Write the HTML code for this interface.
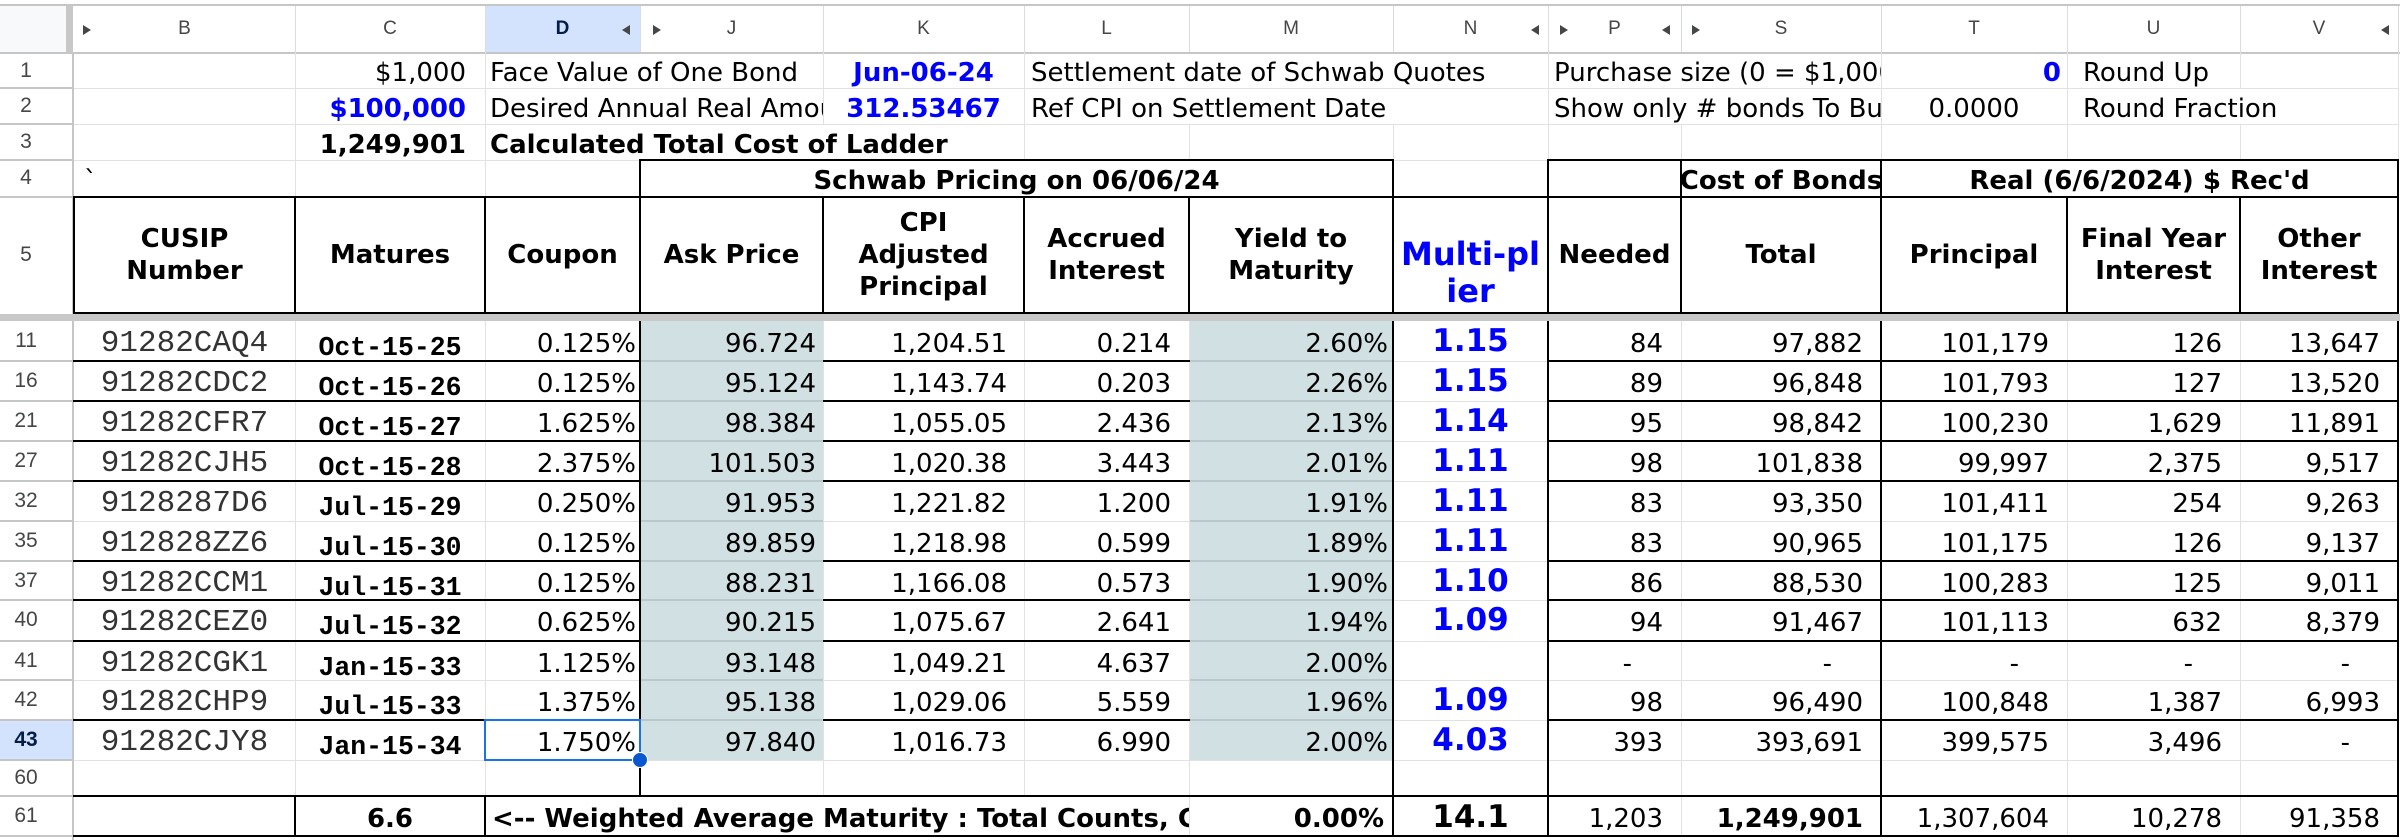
<!DOCTYPE html>
<html>
<head>
<meta charset="utf-8">
<style>
html,body{margin:0;padding:0;background:#fff;}
#c{position:relative;width:2400px;height:840px;overflow:hidden;background:#fff;}
.t{position:absolute;white-space:nowrap;font-family:"DejaVu Sans",sans-serif;font-size:26px;line-height:30px;color:#000;}
.b{font-weight:bold;}
.u{color:#0000ff;}
.R{text-align:right;}
.C{text-align:center;}
.clip{overflow:hidden;}
.g{position:absolute;background:#e2e2e2;}
.k{position:absolute;background:#000;}
.s{position:absolute;background:#c4c7c5;}
.d{position:absolute;background:#b9c8cb;}
.hd{position:absolute;top:197px;height:116px;display:flex;align-items:center;justify-content:center;text-align:center;font-family:"DejaVu Sans",sans-serif;font-weight:bold;font-size:26px;line-height:32px;white-space:nowrap;color:#000;}
.ch{position:absolute;top:18px;font-family:"Liberation Sans",Arial,sans-serif;font-size:19px;line-height:22px;color:#444746;text-align:center;}
.rn{position:absolute;left:0;width:52px;text-align:center;font-family:"Liberation Sans",Arial,sans-serif;font-size:21px;line-height:24px;color:#444746;}
.row{position:absolute;left:0;width:2400px;height:40px;}
.row .rn{top:8px;}
.cB{left:74px;width:221px;text-align:center;top:8px;font-family:"Liberation Mono",monospace;font-size:31px;color:#333;}
.cC{left:295px;width:190px;text-align:center;top:12px;font-family:"Liberation Mono",monospace;font-weight:bold;font-size:26.5px;}
.cD{left:485px;width:151px;text-align:right;top:8px;}
.cJ{left:640px;width:176px;text-align:right;top:8px;}
.cK{left:823px;width:184px;text-align:right;top:8px;}
.cL{left:1024px;width:147px;text-align:right;top:8px;}
.cM{left:1189px;width:199px;text-align:right;top:8px;}
.cN{left:1393px;width:155px;text-align:center;top:2px;font-weight:bold;font-size:31px;line-height:36px;color:#0000ff;}
.cP{left:1548px;width:115px;text-align:right;top:8px;}
.cS{left:1681px;width:182px;text-align:right;top:8px;}
.cT{left:1881px;width:168px;text-align:right;top:8px;}
.cU{left:2067px;width:155px;text-align:right;top:8px;}
.cV{left:2240px;width:140px;text-align:right;top:8px;}
.dP{left:1548px;width:84px;text-align:right;top:8px;}
.dS{left:1681px;width:151px;text-align:right;top:8px;}
.dT{left:1881px;width:138px;text-align:right;top:8px;}
.dU{left:2067px;width:126px;text-align:right;top:8px;}
.dV{left:2240px;width:110px;text-align:right;top:8px;}
.tr{position:absolute;top:25px;width:0;height:0;border-top:5.5px solid transparent;border-bottom:5.5px solid transparent;}
.tR{border-left:8px solid #444746;}
.tL{border-right:8px solid #444746;}
</style>
</head>
<body>
<div id="c">

<!-- column header area -->
<div class="s" style="left:0;top:4px;width:2400px;height:2px;"></div>
<div style="position:absolute;left:0;top:6px;width:66px;height:46px;background:#f8f9fa;"></div>
<div style="position:absolute;left:66px;top:6px;width:7px;height:46px;background:#c8c8c8;"></div>
<div style="position:absolute;left:485px;top:6px;width:155px;height:46px;background:#d3e3fd;"></div>
<div class="s" style="left:0;top:52px;width:2400px;height:2px;"></div>
<!-- header separators -->
<div class="g" style="left:295px;top:6px;width:1px;height:46px;background:#dadce0"></div>
<div class="g" style="left:485px;top:6px;width:1px;height:46px;background:#dadce0"></div>
<div class="g" style="left:640px;top:6px;width:1px;height:46px;background:#dadce0"></div>
<div class="g" style="left:823px;top:6px;width:1px;height:46px;background:#dadce0"></div>
<div class="g" style="left:1024px;top:6px;width:1px;height:46px;background:#dadce0"></div>
<div class="g" style="left:1189px;top:6px;width:1px;height:46px;background:#dadce0"></div>
<div class="g" style="left:1393px;top:6px;width:1px;height:46px;background:#dadce0"></div>
<div class="g" style="left:1548px;top:6px;width:1px;height:46px;background:#dadce0"></div>
<div class="g" style="left:1681px;top:6px;width:1px;height:46px;background:#dadce0"></div>
<div class="g" style="left:1881px;top:6px;width:1px;height:46px;background:#dadce0"></div>
<div class="g" style="left:2067px;top:6px;width:1px;height:46px;background:#dadce0"></div>
<div class="g" style="left:2240px;top:6px;width:1px;height:46px;background:#dadce0"></div>
<div class="g" style="left:2398px;top:6px;width:1px;height:46px;background:#dadce0"></div>

<div class="ch" style="left:74px;width:221px;">B</div>
<div class="ch" style="left:295px;width:190px;">C</div>
<div class="ch" style="left:485px;width:155px;font-weight:bold;color:#041e49;">D</div>
<div class="ch" style="left:640px;width:183px;">J</div>
<div class="ch" style="left:823px;width:201px;">K</div>
<div class="ch" style="left:1024px;width:165px;">L</div>
<div class="ch" style="left:1189px;width:204px;">M</div>
<div class="ch" style="left:1393px;width:155px;">N</div>
<div class="ch" style="left:1548px;width:133px;">P</div>
<div class="ch" style="left:1681px;width:200px;">S</div>
<div class="ch" style="left:1881px;width:186px;">T</div>
<div class="ch" style="left:2067px;width:173px;">U</div>
<div class="ch" style="left:2240px;width:158px;">V</div>

<div class="tr tR" style="left:83px;"></div>
<div class="tr tL" style="left:622px;"></div>
<div class="tr tR" style="left:653px;"></div>
<div class="tr tL" style="left:1531px;"></div>
<div class="tr tR" style="left:1560px;"></div>
<div class="tr tL" style="left:1662px;"></div>
<div class="tr tR" style="left:1692px;"></div>
<div class="tr tL" style="left:2381px;"></div>

<!-- shading -->
<div style="position:absolute;left:640px;top:321px;width:183px;height:439px;background:#d0e0e3;"></div>
<div style="position:absolute;left:1189px;top:321px;width:204px;height:439px;background:#d0e0e3;"></div>
<div style="position:absolute;left:0;top:720px;width:72px;height:40px;background:#d3e3fd;"></div>

<!-- light horizontal gridlines -->
<div class="g" style="left:74px;top:88px;width:2325px;height:1px;"></div>
<div class="g" style="left:74px;top:124px;width:2325px;height:1px;"></div>
<div class="g" style="left:74px;top:160px;width:2325px;height:1px;"></div>
<div class="g" style="left:74px;top:361px;width:2325px;height:1px;"></div>
<div class="g" style="left:74px;top:401px;width:2325px;height:1px;"></div>
<div class="g" style="left:74px;top:441px;width:2325px;height:1px;"></div>
<div class="g" style="left:74px;top:481px;width:2325px;height:1px;"></div>
<div class="g" style="left:74px;top:521px;width:2325px;height:1px;"></div>
<div class="g" style="left:74px;top:561px;width:2325px;height:1px;"></div>
<div class="g" style="left:74px;top:600px;width:2325px;height:1px;"></div>
<div class="g" style="left:74px;top:641px;width:2325px;height:1px;"></div>
<div class="g" style="left:74px;top:680px;width:2325px;height:1px;"></div>
<div class="g" style="left:74px;top:720px;width:2325px;height:1px;"></div>
<div class="g" style="left:74px;top:760px;width:2325px;height:1px;"></div>

<!-- shaded lines J and M -->
<div class="d" style="left:640px;top:360px;width:183px;height:2px;"></div>
<div class="d" style="left:640px;top:400px;width:183px;height:2px;"></div>
<div class="d" style="left:640px;top:440px;width:183px;height:2px;"></div>
<div class="d" style="left:640px;top:480px;width:183px;height:2px;"></div>
<div class="d" style="left:640px;top:520px;width:183px;height:2px;"></div>
<div class="d" style="left:640px;top:560px;width:183px;height:2px;"></div>
<div class="d" style="left:640px;top:599px;width:183px;height:2px;"></div>
<div class="d" style="left:640px;top:640px;width:183px;height:2px;"></div>
<div class="d" style="left:640px;top:679px;width:183px;height:2px;"></div>
<div class="d" style="left:640px;top:719px;width:183px;height:2px;"></div>
<div class="d" style="left:1189px;top:360px;width:204px;height:2px;"></div>
<div class="d" style="left:1189px;top:400px;width:204px;height:2px;"></div>
<div class="d" style="left:1189px;top:440px;width:204px;height:2px;"></div>
<div class="d" style="left:1189px;top:480px;width:204px;height:2px;"></div>
<div class="d" style="left:1189px;top:520px;width:204px;height:2px;"></div>
<div class="d" style="left:1189px;top:560px;width:204px;height:2px;"></div>
<div class="d" style="left:1189px;top:599px;width:204px;height:2px;"></div>
<div class="d" style="left:1189px;top:640px;width:204px;height:2px;"></div>
<div class="d" style="left:1189px;top:679px;width:204px;height:2px;"></div>
<div class="d" style="left:1189px;top:719px;width:204px;height:2px;"></div>

<!-- light vertical gridlines -->
<div class="g" style="left:295px;top:52px;width:1px;height:145px;"></div>
<div class="g" style="left:295px;top:321px;width:1px;height:475px;"></div>
<div class="g" style="left:485px;top:52px;width:1px;height:145px;"></div>
<div class="g" style="left:485px;top:321px;width:1px;height:475px;"></div>
<div class="g" style="left:823px;top:52px;width:1px;height:72px;"></div>
<div class="g" style="left:823px;top:321px;width:1px;height:475px;"></div>
<div class="g" style="left:1024px;top:52px;width:1px;height:108px;"></div>
<div class="g" style="left:1024px;top:321px;width:1px;height:475px;"></div>
<div class="g" style="left:1189px;top:124px;width:1px;height:36px;"></div>
<div class="g" style="left:1189px;top:321px;width:1px;height:515px;"></div>
<div class="g" style="left:1393px;top:124px;width:1px;height:36px;"></div>
<div class="g" style="left:1548px;top:52px;width:1px;height:108px;"></div>
<div class="g" style="left:1681px;top:124px;width:1px;height:36px;"></div>
<div class="g" style="left:1681px;top:321px;width:1px;height:515px;"></div>
<div class="g" style="left:1881px;top:52px;width:1px;height:108px;"></div>
<div class="g" style="left:2067px;top:52px;width:1px;height:108px;"></div>
<div class="g" style="left:2067px;top:321px;width:1px;height:515px;"></div>
<div class="g" style="left:2240px;top:52px;width:1px;height:36px;"></div>
<div class="g" style="left:2240px;top:124px;width:1px;height:36px;"></div>
<div class="g" style="left:2240px;top:321px;width:1px;height:515px;"></div>
<div class="g" style="left:2398px;top:52px;width:1px;height:108px;"></div>

<!-- row header lines -->
<div class="s" style="left:72px;top:52px;width:2px;height:788px;"></div>
<div class="s" style="left:0;top:87px;width:72px;height:2px;"></div>
<div class="s" style="left:0;top:123px;width:72px;height:2px;"></div>
<div class="s" style="left:0;top:159px;width:72px;height:2px;"></div>
<div class="s" style="left:0;top:196px;width:72px;height:2px;"></div>
<div class="s" style="left:0;top:360px;width:72px;height:2px;"></div>
<div class="s" style="left:0;top:400px;width:72px;height:2px;"></div>
<div class="s" style="left:0;top:440px;width:72px;height:2px;"></div>
<div class="s" style="left:0;top:480px;width:72px;height:2px;"></div>
<div class="s" style="left:0;top:520px;width:72px;height:2px;"></div>
<div class="s" style="left:0;top:560px;width:72px;height:2px;"></div>
<div class="s" style="left:0;top:599px;width:72px;height:2px;"></div>
<div class="s" style="left:0;top:640px;width:72px;height:2px;"></div>
<div class="s" style="left:0;top:679px;width:72px;height:2px;"></div>
<div class="s" style="left:0;top:719px;width:72px;height:2px;"></div>
<div class="s" style="left:0;top:759px;width:72px;height:2px;"></div>
<div class="s" style="left:0;top:795px;width:72px;height:2px;"></div>
<div class="s" style="left:0;top:835px;width:72px;height:2px;"></div>

<!-- freeze bar -->
<div style="position:absolute;left:0;top:314px;width:2400px;height:7px;background:#c8c8c8;"></div>

<!-- black horizontal borders -->
<div class="k" style="left:639px;top:159px;width:755px;height:2px;"></div>
<div class="k" style="left:1547px;top:159px;width:852px;height:2px;"></div>
<div class="k" style="left:73px;top:196px;width:2326px;height:2px;"></div>
<div class="k" style="left:73px;top:312px;width:2326px;height:2px;"></div>
<div class="k" style="left:73px;top:795px;width:2326px;height:2px;"></div>
<div class="k" style="left:73px;top:835px;width:2326px;height:2px;"></div>

<div class="k" style="left:73px;top:360px;width:568px;height:2px;"></div>
<div class="k" style="left:823px;top:360px;width:367px;height:2px;"></div>
<div class="k" style="left:1547px;top:360px;width:852px;height:2px;"></div>
<div class="k" style="left:73px;top:400px;width:568px;height:2px;"></div>
<div class="k" style="left:823px;top:400px;width:367px;height:2px;"></div>
<div class="k" style="left:1547px;top:400px;width:852px;height:2px;"></div>
<div class="k" style="left:73px;top:440px;width:568px;height:2px;"></div>
<div class="k" style="left:823px;top:440px;width:367px;height:2px;"></div>
<div class="k" style="left:1547px;top:440px;width:852px;height:2px;"></div>
<div class="k" style="left:73px;top:480px;width:568px;height:2px;"></div>
<div class="k" style="left:823px;top:480px;width:367px;height:2px;"></div>
<div class="k" style="left:1547px;top:480px;width:852px;height:2px;"></div>
<div class="k" style="left:73px;top:560px;width:568px;height:2px;"></div>
<div class="k" style="left:823px;top:560px;width:367px;height:2px;"></div>
<div class="k" style="left:1547px;top:560px;width:852px;height:2px;"></div>
<div class="k" style="left:73px;top:599px;width:568px;height:2px;"></div>
<div class="k" style="left:823px;top:599px;width:367px;height:2px;"></div>
<div class="k" style="left:1547px;top:599px;width:852px;height:2px;"></div>
<div class="k" style="left:73px;top:640px;width:568px;height:2px;"></div>
<div class="k" style="left:823px;top:640px;width:367px;height:2px;"></div>
<div class="k" style="left:1547px;top:640px;width:852px;height:2px;"></div>
<div class="k" style="left:73px;top:719px;width:568px;height:2px;"></div>
<div class="k" style="left:823px;top:719px;width:367px;height:2px;"></div>
<div class="k" style="left:1547px;top:719px;width:852px;height:2px;"></div>

<!-- black vertical borders -->
<div class="k" style="left:73px;top:196px;width:2px;height:118px;"></div>
<div class="k" style="left:294px;top:196px;width:2px;height:118px;"></div>
<div class="k" style="left:294px;top:795px;width:2px;height:42px;"></div>
<div class="k" style="left:484px;top:196px;width:2px;height:118px;"></div>
<div class="k" style="left:484px;top:795px;width:2px;height:42px;"></div>
<div class="k" style="left:639px;top:159px;width:2px;height:155px;"></div>
<div class="k" style="left:639px;top:321px;width:2px;height:476px;"></div>
<div class="k" style="left:822px;top:196px;width:2px;height:118px;"></div>
<div class="k" style="left:1023px;top:196px;width:2px;height:118px;"></div>
<div class="k" style="left:1188px;top:196px;width:2px;height:118px;"></div>
<div class="k" style="left:1392px;top:159px;width:2px;height:155px;"></div>
<div class="k" style="left:1392px;top:321px;width:2px;height:516px;"></div>
<div class="k" style="left:1547px;top:159px;width:2px;height:155px;"></div>
<div class="k" style="left:1547px;top:321px;width:2px;height:516px;"></div>
<div class="k" style="left:1680px;top:159px;width:2px;height:155px;"></div>
<div class="k" style="left:1880px;top:159px;width:2px;height:155px;"></div>
<div class="k" style="left:1880px;top:321px;width:2px;height:516px;"></div>
<div class="k" style="left:2066px;top:196px;width:2px;height:118px;"></div>
<div class="k" style="left:2239px;top:196px;width:2px;height:118px;"></div>
<div class="k" style="left:2397px;top:159px;width:2px;height:155px;"></div>
<div class="k" style="left:2397px;top:321px;width:2px;height:516px;"></div>

<!-- row numbers (header rows) -->
<div class="rn" style="top:59px;">1</div>
<div class="rn" style="top:94px;">2</div>
<div class="rn" style="top:130px;">3</div>
<div class="rn" style="top:166px;">4</div>
<div class="rn" style="top:243px;">5</div>

<!-- rows 1-4 text -->
<div class="t R" style="left:295px;width:171px;top:58px;">$1,000</div>
<div class="t" style="left:490px;top:58px;">Face Value of One Bond</div>
<div class="t b u C" style="left:823px;width:201px;top:58px;">Jun-06-24</div>
<div class="t" style="left:1031px;top:58px;">Settlement date of Schwab Quotes</div>
<div class="t clip" style="left:1554px;width:327px;top:58px;">Purchase size (0 = $1,000 bonds)</div>
<div class="t b u R" style="left:1881px;width:180px;top:58px;">0</div>
<div class="t" style="left:2083px;top:58px;">Round Up</div>

<div class="t b u R" style="left:295px;width:171px;top:94px;">$100,000</div>
<div class="t clip" style="left:490px;width:333px;top:94px;">Desired Annual Real Amount</div>
<div class="t b u C" style="left:823px;width:201px;top:94px;">312.53467</div>
<div class="t" style="left:1031px;top:94px;">Ref CPI on Settlement Date</div>
<div class="t clip" style="left:1554px;width:327px;top:94px;">Show only # bonds To Buy</div>
<div class="t C" style="left:1881px;width:186px;top:94px;">0.0000</div>
<div class="t" style="left:2083px;top:94px;">Round Fraction</div>

<div class="t b R" style="left:295px;width:171px;top:130px;">1,249,901</div>
<div class="t b" style="left:490px;top:130px;">Calculated Total Cost of Ladder</div>

<div class="t" style="left:84px;top:166px;">`</div>
<div class="t b C" style="left:640px;width:753px;top:166px;">Schwab Pricing on 06/06/24</div>
<div class="t b clip" style="left:1681px;width:200px;top:166px;display:flex;justify-content:center;">Cost of Bonds</div>
<div class="t b C" style="left:1881px;width:517px;top:166px;">Real (6/6/2024) $ Rec'd</div>

<!-- row 5 headers -->
<div class="hd u" style="left:74px;width:221px;">CUSIP<br>Number</div>
<div class="hd u" style="left:295px;width:190px;">Matures</div>
<div class="hd u" style="left:485px;width:155px;">Coupon</div>
<div class="hd" style="left:640px;width:183px;">Ask Price</div>
<div class="hd" style="left:823px;width:201px;">CPI<br>Adjusted<br>Principal</div>
<div class="hd" style="left:1024px;width:165px;">Accrued<br>Interest</div>
<div class="hd" style="left:1189px;width:204px;">Yield to<br>Maturity</div>
<div class="t b u C" style="left:1393px;width:155px;top:236px;font-size:32px;line-height:37px;">Multi-pl<br>ier</div>
<div class="hd" style="left:1548px;width:133px;">Needed</div>
<div class="hd" style="left:1681px;width:200px;">Total</div>
<div class="hd" style="left:1881px;width:186px;">Principal</div>
<div class="hd" style="left:2067px;width:173px;">Final Year<br>Interest</div>
<div class="hd" style="left:2240px;width:158px;">Other<br>Interest</div>

<!-- data rows -->
<div class="row" style="top:321px;">
<div class="rn">11</div>
<div class="t cB">91282CAQ4</div><div class="t cC">Oct-15-25</div><div class="t cD">0.125%</div>
<div class="t cJ">96.724</div><div class="t cK">1,204.51</div><div class="t cL">0.214</div><div class="t cM">2.60%</div>
<div class="t cN">1.15</div><div class="t cP">84</div><div class="t cS">97,882</div><div class="t cT">101,179</div><div class="t cU">126</div><div class="t cV">13,647</div>
</div>
<div class="row" style="top:361px;">
<div class="rn">16</div>
<div class="t cB">91282CDC2</div><div class="t cC">Oct-15-26</div><div class="t cD">0.125%</div>
<div class="t cJ">95.124</div><div class="t cK">1,143.74</div><div class="t cL">0.203</div><div class="t cM">2.26%</div>
<div class="t cN">1.15</div><div class="t cP">89</div><div class="t cS">96,848</div><div class="t cT">101,793</div><div class="t cU">127</div><div class="t cV">13,520</div>
</div>
<div class="row" style="top:401px;">
<div class="rn">21</div>
<div class="t cB">91282CFR7</div><div class="t cC">Oct-15-27</div><div class="t cD">1.625%</div>
<div class="t cJ">98.384</div><div class="t cK">1,055.05</div><div class="t cL">2.436</div><div class="t cM">2.13%</div>
<div class="t cN">1.14</div><div class="t cP">95</div><div class="t cS">98,842</div><div class="t cT">100,230</div><div class="t cU">1,629</div><div class="t cV">11,891</div>
</div>
<div class="row" style="top:441px;">
<div class="rn">27</div>
<div class="t cB">91282CJH5</div><div class="t cC">Oct-15-28</div><div class="t cD">2.375%</div>
<div class="t cJ">101.503</div><div class="t cK">1,020.38</div><div class="t cL">3.443</div><div class="t cM">2.01%</div>
<div class="t cN">1.11</div><div class="t cP">98</div><div class="t cS">101,838</div><div class="t cT">99,997</div><div class="t cU">2,375</div><div class="t cV">9,517</div>
</div>
<div class="row" style="top:481px;">
<div class="rn">32</div>
<div class="t cB">9128287D6</div><div class="t cC">Jul-15-29</div><div class="t cD">0.250%</div>
<div class="t cJ">91.953</div><div class="t cK">1,221.82</div><div class="t cL">1.200</div><div class="t cM">1.91%</div>
<div class="t cN">1.11</div><div class="t cP">83</div><div class="t cS">93,350</div><div class="t cT">101,411</div><div class="t cU">254</div><div class="t cV">9,263</div>
</div>
<div class="row" style="top:521px;">
<div class="rn">35</div>
<div class="t cB">912828ZZ6</div><div class="t cC">Jul-15-30</div><div class="t cD">0.125%</div>
<div class="t cJ">89.859</div><div class="t cK">1,218.98</div><div class="t cL">0.599</div><div class="t cM">1.89%</div>
<div class="t cN">1.11</div><div class="t cP">83</div><div class="t cS">90,965</div><div class="t cT">101,175</div><div class="t cU">126</div><div class="t cV">9,137</div>
</div>
<div class="row" style="top:561px;">
<div class="rn">37</div>
<div class="t cB">91282CCM1</div><div class="t cC">Jul-15-31</div><div class="t cD">0.125%</div>
<div class="t cJ">88.231</div><div class="t cK">1,166.08</div><div class="t cL">0.573</div><div class="t cM">1.90%</div>
<div class="t cN">1.10</div><div class="t cP">86</div><div class="t cS">88,530</div><div class="t cT">100,283</div><div class="t cU">125</div><div class="t cV">9,011</div>
</div>
<div class="row" style="top:600px;">
<div class="rn">40</div>
<div class="t cB">91282CEZ0</div><div class="t cC">Jul-15-32</div><div class="t cD">0.625%</div>
<div class="t cJ">90.215</div><div class="t cK">1,075.67</div><div class="t cL">2.641</div><div class="t cM">1.94%</div>
<div class="t cN">1.09</div><div class="t cP">94</div><div class="t cS">91,467</div><div class="t cT">101,113</div><div class="t cU">632</div><div class="t cV">8,379</div>
</div>
<div class="row" style="top:641px;">
<div class="rn">41</div>
<div class="t cB">91282CGK1</div><div class="t cC">Jan-15-33</div><div class="t cD">1.125%</div>
<div class="t cJ">93.148</div><div class="t cK">1,049.21</div><div class="t cL">4.637</div><div class="t cM">2.00%</div>
<div class="t dP">-</div><div class="t dS">-</div><div class="t dT">-</div><div class="t dU">-</div><div class="t dV">-</div>
</div>
<div class="row" style="top:680px;">
<div class="rn">42</div>
<div class="t cB">91282CHP9</div><div class="t cC">Jul-15-33</div><div class="t cD">1.375%</div>
<div class="t cJ">95.138</div><div class="t cK">1,029.06</div><div class="t cL">5.559</div><div class="t cM">1.96%</div>
<div class="t cN">1.09</div><div class="t cP">98</div><div class="t cS">96,490</div><div class="t cT">100,848</div><div class="t cU">1,387</div><div class="t cV">6,993</div>
</div>
<div class="row" style="top:720px;">
<div class="rn" style="font-weight:bold;color:#041e49;">43</div>
<div class="t cB">91282CJY8</div><div class="t cC">Jan-15-34</div><div class="t cD">1.750%</div>
<div class="t cJ">97.840</div><div class="t cK">1,016.73</div><div class="t cL">6.990</div><div class="t cM">2.00%</div>
<div class="t cN">4.03</div><div class="t cP">393</div><div class="t cS">393,691</div><div class="t cT">399,575</div><div class="t cU">3,496</div><div class="t dV">-</div>
</div>
<div class="rn" style="top:766px;">60</div>
<div class="row" style="top:796px;">
<div class="rn">61</div>
<div class="t b C" style="left:295px;width:190px;top:8px;">6.6</div>
<div class="t b clip" style="left:492px;width:697px;top:8px;">&lt;-- Weighted Average Maturity : Total Counts, Cost</div>
<div class="t b R" style="left:1189px;width:195px;top:8px;">0.00%</div>
<div class="t cN" style="color:#000;top:3px;">14.1</div>
<div class="t cP">1,203</div>
<div class="t cS b">1,249,901</div>
<div class="t cT">1,307,604</div>
<div class="t cU">10,278</div>
<div class="t cV">91,358</div>
</div>

<!-- selection -->
<div style="position:absolute;left:484px;top:719px;width:157px;height:42px;border:2px solid #1a73e8;box-sizing:border-box;"></div>
<div style="position:absolute;left:632px;top:752px;width:14px;height:14px;border-radius:50%;background:#0b57d0;border:1.5px solid #fff;"></div>

</div>
</body>
</html>
